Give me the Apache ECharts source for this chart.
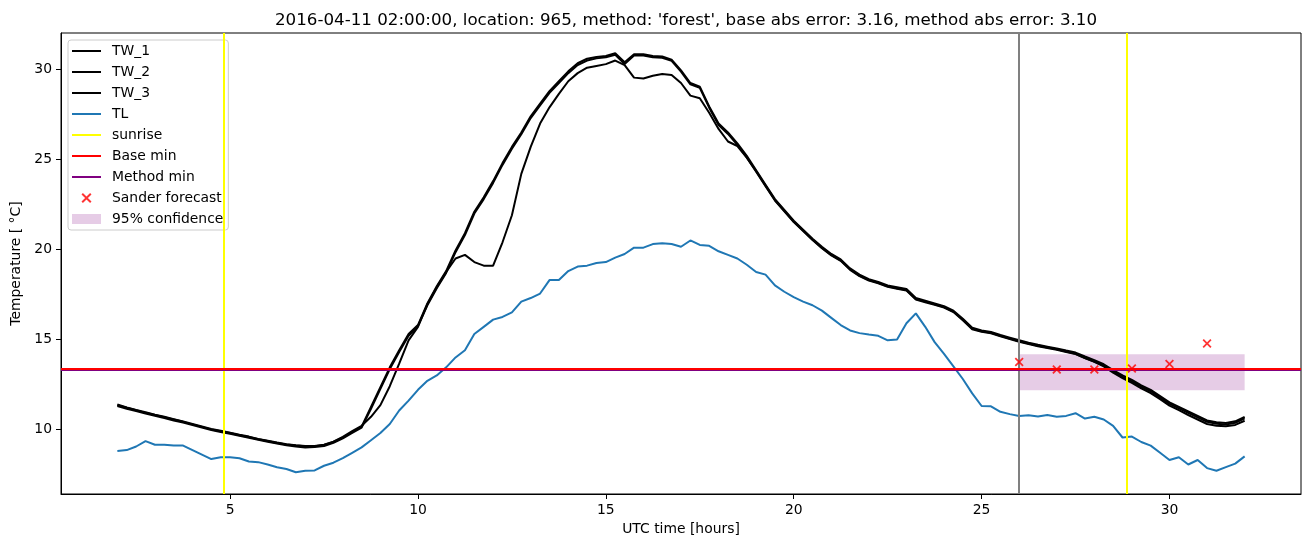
<!DOCTYPE html>
<html><head><meta charset="utf-8">
<script src="https://cdn.jsdelivr.net/npm/echarts@6/dist/echarts.min.js"></script>
<style>html,body{margin:0;padding:0;background:#fff}#c{width:1310px;height:547px}</style>
</head><body><div id="c"></div>
<script>
const titleText = "2016-04-11 02:00:00, location: 965, method: 'forest', base abs error: 3.16, method abs error: 3.10";
const times = [2,2.25,2.5,2.75,3,3.25,3.5,3.75,4,4.25,4.5,4.75,5,5.25,5.5,5.75,6,6.25,6.5,6.75,7,7.25,7.5,7.75,8,8.25,8.5,8.75,9,9.25,9.5,9.75,10,10.25,10.5,10.75,11,11.25,11.5,11.75,12,12.25,12.5,12.75,13,13.25,13.5,13.75,14,14.25,14.5,14.75,15,15.25,15.5,15.75,16,16.25,16.5,16.75,17,17.25,17.5,17.75,18,18.25,18.5,18.75,19,19.25,19.5,19.75,20,20.25,20.5,20.75,21,21.25,21.5,21.75,22,22.25,22.5,22.75,23,23.25,23.5,23.75,24,24.25,24.5,24.75,25,25.25,25.5,25.75,26,26.25,26.5,26.75,27,27.25,27.5,27.75,28,28.25,28.5,28.75,29,29.25,29.5,29.75,30,30.25,30.5,30.75,31,31.25,31.5,31.75,32];
const tw1 = [11.35,11.2,11.06,10.92,10.8,10.68,10.55,10.42,10.28,10.14,10.0,9.9,9.8,9.68,9.58,9.45,9.35,9.25,9.16,9.1,9.06,9.06,9.13,9.3,9.55,9.85,10.15,11.25,12.35,13.45,14.4,15.3,15.8,17.0,17.95,18.8,19.95,20.9,22.1,22.9,23.8,24.8,25.7,26.5,27.4,28.1,28.8,29.35,29.9,30.35,30.6,30.7,30.75,30.9,30.4,30.85,30.85,30.75,30.72,30.55,29.95,29.25,29.05,27.95,27.0,26.5,25.9,25.2,24.4,23.6,22.8,22.2,21.6,21.1,20.6,20.15,19.75,19.45,18.95,18.6,18.35,18.2,18.0,17.9,17.8,17.3,17.15,17.0,16.85,16.6,16.15,15.65,15.5,15.42,15.25,15.1,14.95,14.82,14.7,14.6,14.5,14.38,14.27,14.05,13.85,13.62,13.3,13.0,12.75,12.45,12.2,11.85,11.5,11.25,11.0,10.75,10.5,10.4,10.35,10.45,10.7];
const tw2 = [11.3,11.15,11.02,10.88,10.76,10.63,10.5,10.38,10.24,10.1,9.96,9.86,9.76,9.64,9.54,9.42,9.31,9.21,9.12,9.05,9.0,9.02,9.08,9.25,9.5,9.8,10.1,11.15,12.25,13.35,14.3,15.2,15.75,16.9,17.85,18.7,19.85,20.8,22.0,22.8,23.7,24.7,25.6,26.4,27.3,28.0,28.7,29.25,29.8,30.25,30.5,30.62,30.68,30.82,30.3,30.78,30.78,30.68,30.65,30.48,29.88,29.18,28.98,27.88,26.92,26.42,25.82,25.12,24.32,23.52,22.72,22.12,21.52,21.02,20.52,20.07,19.67,19.37,18.87,18.52,18.27,18.12,17.92,17.82,17.72,17.22,17.07,16.92,16.77,16.52,16.07,15.57,15.42,15.34,15.17,15.02,14.87,14.74,14.62,14.52,14.42,14.3,14.19,13.97,13.77,13.54,13.22,12.92,12.67,12.37,12.12,11.77,11.42,11.17,10.92,10.67,10.42,10.32,10.27,10.37,10.62];
const tw3 = [11.38,11.22,11.08,10.95,10.82,10.7,10.57,10.44,10.3,10.16,10.02,9.92,9.82,9.7,9.6,9.47,9.37,9.27,9.18,9.12,9.08,9.08,9.15,9.32,9.58,9.9,10.2,10.7,11.35,12.4,13.65,14.95,15.7,16.95,17.9,18.75,19.5,19.7,19.3,19.1,19.1,20.4,21.9,24.2,25.7,27.0,27.9,28.65,29.35,29.8,30.1,30.2,30.3,30.5,30.25,29.55,29.5,29.65,29.75,29.7,29.25,28.55,28.4,27.6,26.7,26.0,25.75,25.1,24.35,23.55,22.75,22.15,21.55,21.05,20.55,20.1,19.7,19.4,18.9,18.55,18.3,18.15,17.95,17.85,17.75,17.25,17.1,16.95,16.8,16.55,16.1,15.6,15.45,15.37,15.2,15.05,14.9,14.77,14.65,14.55,14.45,14.33,14.2,13.97,13.75,13.5,13.15,12.85,12.58,12.28,12.02,11.68,11.32,11.07,10.8,10.55,10.3,10.2,10.18,10.25,10.48];
const tl = [8.8,8.85,9.05,9.35,9.15,9.15,9.1,9.1,8.85,8.6,8.35,8.45,8.45,8.4,8.22,8.18,8.05,7.9,7.8,7.62,7.7,7.72,7.98,8.15,8.4,8.7,9.0,9.4,9.8,10.3,11.05,11.6,12.2,12.7,13.0,13.45,14.0,14.4,15.3,15.7,16.1,16.25,16.5,17.1,17.3,17.55,18.3,18.3,18.8,19.05,19.1,19.25,19.3,19.55,19.75,20.1,20.1,20.3,20.35,20.3,20.15,20.5,20.25,20.2,19.9,19.7,19.5,19.15,18.75,18.6,18.0,17.65,17.35,17.1,16.9,16.6,16.2,15.8,15.5,15.35,15.27,15.2,14.95,15.0,15.9,16.45,15.7,14.85,14.2,13.5,12.8,12.0,11.3,11.28,10.98,10.85,10.75,10.78,10.72,10.8,10.7,10.75,10.9,10.6,10.7,10.55,10.2,9.55,9.6,9.3,9.1,8.7,8.3,8.45,8.05,8.3,7.85,7.7,7.9,8.1,8.5];
const sunriseX = [4.83, 28.85];
const forecastX = [26];
const baseMin = [13.36];
const methodMin = [13.30];
const sanderX = [26, 27, 28, 29, 30, 31];
const sanderY = [13.74, 13.33, 13.33, 13.39, 13.63, 14.78];
const confX = [26, 32];
const confLow = [12.18];
const confHigh = [14.18];
const xTicks = [5, 10, 15, 20, 25, 30];
const yTicks = [10, 15, 20, 25, 30];
const legendNames = ['TW_1','TW_2','TW_3','TL','sunrise','Base min','Method min','Sander forecast','95% confidence'];
const legendColors = ['#000000','#000000','#000000','#1f77b4','#ffff00','#ff0000','#800080','#ff0000','rgba(128,0,128,0.2)'];

const F = 'DejaVu Sans';
const zip = (xs, ys) => xs.map((x, i) => [x, ys[i]]);
const XPATH = 'path://M0,1.4 L1.4,0 L5,3.6 L8.6,0 L10,1.4 L6.4,5 L10,8.6 L8.6,10 L5,6.4 L1.4,10 L0,8.6 L3.6,5 Z';
const LINEICON = 'path://M0,0 L0.001,0 L0.001,0.001 Z M0,4 L29,4 L29,6 L0,6 Z M28.999,10 L29,10 L29,9.999 Z';
const lineS = (name, vals, color, z) => ({
  name, type: 'line', data: zip(times, vals), showSymbol: false, symbol: 'none',
  lineStyle: { color, width: 2 }, itemStyle: { color }, z, animation: false, silent: true
});
const ml = (name, color, dataArr, z) => ({
  name, type: 'line', data: [], symbol: 'none', lineStyle: { color, width: 2 }, itemStyle: { color }, z,
  markLine: { silent: true, symbol: ['none', 'none'], label: { show: false }, animation: false,
    lineStyle: { color, width: 2, type: 'solid' }, emphasis: { disabled: true }, data: dataArr, z }
});

const chart = echarts.init(document.getElementById('c'), null, { renderer: 'canvas' });
chart.setOption({
  animation: false,
  backgroundColor: '#fff',
  title: { text: titleText, left: 681, textAlign: 'center', top: 7,
    textStyle: { fontFamily: F, fontSize: 16.7, fontWeight: 'normal', color: '#000' } },
  grid: { left: 61, top: 33, width: 1240, height: 461, show: true, borderColor: '#000', borderWidth: 1, backgroundColor: 'transparent' },
  legend: {
    orient: 'vertical', left: 68, top: 40, padding: [3, 5, 3, 4], itemGap: 5, itemWidth: 29, itemHeight: 10,
    backgroundColor: 'rgba(255,255,255,0.8)', borderColor: '#cccccc', borderWidth: 1, borderRadius: 3,
    selectedMode: false,
    textStyle: { fontFamily: F, fontSize: 13.9, color: '#000', lineHeight: 16, padding: [0, 0, 0, 6] },
    data: legendNames.map((n, i) => {
      if (n === '95% confidence') return { name: n, icon: 'rect', itemStyle: { color: legendColors[i] } };
      if (n === 'Sander forecast') return { name: n, icon: XPATH, itemStyle: { color: legendColors[i] } };
      return { name: n, icon: LINEICON, itemStyle: { color: legendColors[i], borderWidth: 0 } };
    })
  },
  xAxis: {
    type: 'value', min: 0.5, max: 33.5, name: 'UTC time [hours]', nameLocation: 'middle', nameGap: 27,
    nameTextStyle: { fontFamily: F, fontSize: 13.9, color: '#000' },
    axisLine: { show: true, onZero: false, lineStyle: { color: '#000', width: 1 } },
    axisTick: { show: true, length: 5, lineStyle: { color: '#000' }, customValues: xTicks },
    axisLabel: { fontFamily: F, fontSize: 13.9, color: '#000', margin: 9, customValues: xTicks },
    splitLine: { show: false }
  },
  yAxis: {
    type: 'value', min: 6.41, max: 32.03, name: 'Temperature [ °C]', nameLocation: 'middle', nameGap: 32, nameRotate: 90,
    nameTextStyle: { fontFamily: F, fontSize: 13.9, color: '#000' },
    axisLine: { show: true, onZero: false, lineStyle: { color: '#000', width: 1 } },
    axisTick: { show: true, length: 5, lineStyle: { color: '#000' }, customValues: yTicks },
    axisLabel: { fontFamily: F, fontSize: 13.9, color: '#000', margin: 9, customValues: yTicks },
    splitLine: { show: false }
  },
  series: [
    { name: '95% confidence', type: 'line', data: [], symbol: 'none', z: 1,
      itemStyle: { color: 'rgba(128,0,128,0.2)' },
      markArea: { silent: true, animation: false, itemStyle: { color: 'rgba(128,0,128,0.2)' },
        data: [[{ coord: [confX[0], confLow[0]] }, { coord: [confX[1], confHigh[0]] }]] } },
    lineS('TW_1', tw1, '#000', 3),
    lineS('TW_2', tw2, '#000', 3),
    lineS('TW_3', tw3, '#000', 3),
    lineS('TL', tl, '#1f77b4', 3),
    ml('sunrise', '#ffff00', sunriseX.map(v => ({ xAxis: v })), 4),
    ml('forecast', '#808080', forecastX.map(v => ({ xAxis: v })), 4),
    ml('Method min', '#800080', methodMin.map(v => ({ yAxis: v })), 5),
    ml('Base min', '#ff0000', baseMin.map(v => ({ yAxis: v })), 6),
    { name: 'Sander forecast', type: 'scatter', data: zip(sanderX, sanderY), symbol: XPATH, symbolSize: 9,
      symbolKeepAspect: true, itemStyle: { color: '#ff0000' }, z: 7, silent: true }
  ]
});
</script></body></html>
